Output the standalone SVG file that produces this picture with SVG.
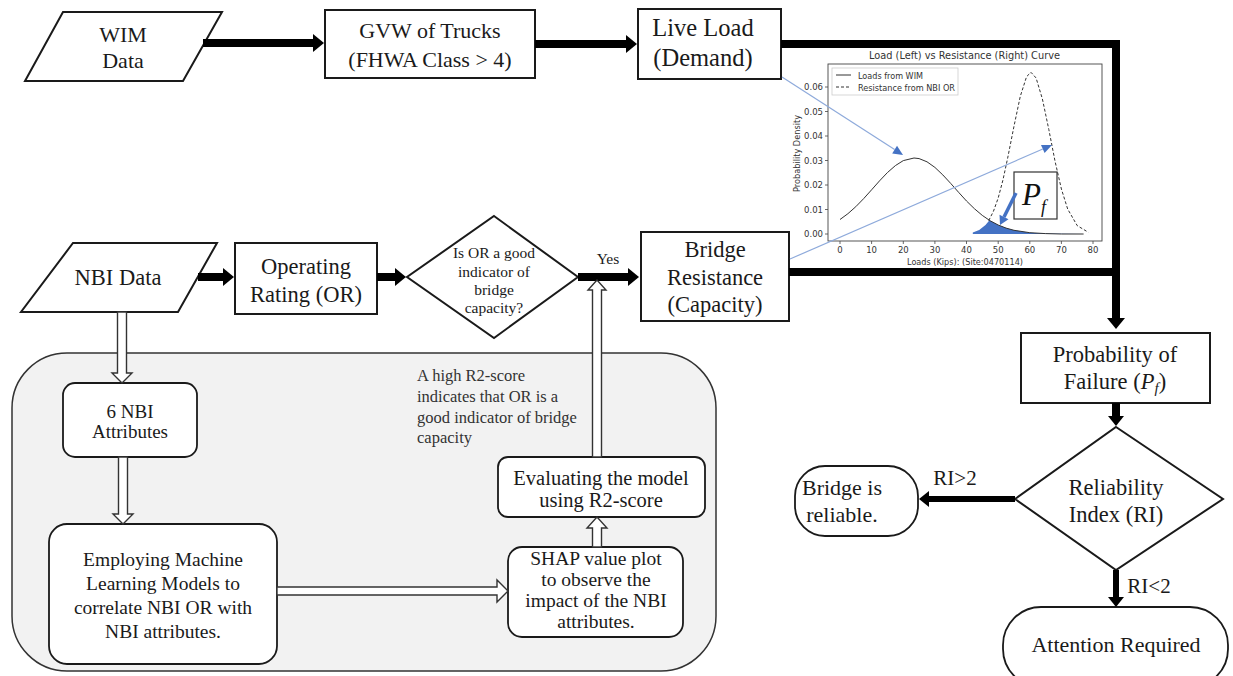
<svg xmlns="http://www.w3.org/2000/svg" width="1233" height="676" viewBox="0 0 1233 676">
<style>
.t{font-family:"Liberation Serif","Times New Roman",serif;fill:#1a1a1a;text-anchor:middle}
.box{fill:#fff;stroke:#1a1a1a;stroke-width:2}
.rbox{fill:#fff;stroke:#1a1a1a;stroke-width:1.8}
.thick{fill:none;stroke:#000;stroke-width:8;stroke-linejoin:miter}
.thin6{fill:none;stroke:#000;stroke-width:6}
.hollow{fill:#fff;stroke:#333;stroke-width:1.4;stroke-linejoin:miter}
.ct{font-family:"DejaVu Sans",sans-serif;fill:#333;font-size:8.5px}
.blue{stroke:#8eaadb;stroke-width:1.2;fill:none}
.bf{fill:#4472c4}
</style>
<defs>
<marker id="ah" markerUnits="userSpaceOnUse" markerWidth="12" markerHeight="20" refX="0" refY="9" orient="auto"><path d="M0,0 L11,9 L0,18 Z" fill="#000"/></marker>
<marker id="ahs" markerUnits="userSpaceOnUse" markerWidth="12" markerHeight="18" refX="0" refY="8" orient="auto"><path d="M0,0 L10,8 L0,16 Z" fill="#000"/></marker>
</defs>
<rect width="1233" height="676" fill="#fff"/>

<!-- gray container -->
<g id="ml-container">
<rect x="12" y="353" width="704" height="318" rx="55" ry="55" fill="#f2f2f2" stroke="#333" stroke-width="1.5"/>
<text x="417" y="381" style="font-family:'Liberation Serif',serif;font-size:16.5px;fill:#333">A high R2-score</text>
<text x="417" y="402" style="font-family:'Liberation Serif',serif;font-size:16.5px;fill:#333">indicates that OR is a</text>
<text x="417" y="423" style="font-family:'Liberation Serif',serif;font-size:16.5px;fill:#333">good indicator of bridge</text>
<text x="417" y="443" style="font-family:'Liberation Serif',serif;font-size:16.5px;fill:#333">capacity</text>
</g>

<!-- chart -->
<g id="chart">
<text x="869" y="59" class="ct" style="font-size:11px" textLength="191" lengthAdjust="spacingAndGlyphs">Load (Left) vs Resistance (Right) Curve</text>
<rect x="828" y="64" width="274" height="177" fill="#fff" stroke="#444" stroke-width="0.9"/>
<g stroke="#444" stroke-width="0.8">
<line x1="825" y1="234" x2="828" y2="234"/><line x1="825" y1="209.5" x2="828" y2="209.5"/><line x1="825" y1="185" x2="828" y2="185"/><line x1="825" y1="160.5" x2="828" y2="160.5"/><line x1="825" y1="136" x2="828" y2="136"/><line x1="825" y1="111.5" x2="828" y2="111.5"/><line x1="825" y1="87" x2="828" y2="87"/>
<line x1="840" y1="241" x2="840" y2="244"/><line x1="871.6" y1="241" x2="871.6" y2="244"/><line x1="903.3" y1="241" x2="903.3" y2="244"/><line x1="934.9" y1="241" x2="934.9" y2="244"/><line x1="966.5" y1="241" x2="966.5" y2="244"/><line x1="998.2" y1="241" x2="998.2" y2="244"/><line x1="1029.8" y1="241" x2="1029.8" y2="244"/><line x1="1061.4" y1="241" x2="1061.4" y2="244"/><line x1="1093" y1="241" x2="1093" y2="244"/>
</g>
<g class="ct" text-anchor="end">
<text x="823" y="237">0.00</text><text x="823" y="212.5">0.01</text><text x="823" y="188">0.02</text><text x="823" y="163.5">0.03</text><text x="823" y="139">0.04</text><text x="823" y="114.5">0.05</text><text x="823" y="90">0.06</text>
</g>
<g class="ct" text-anchor="middle">
<text x="840" y="253">0</text><text x="871.6" y="253">10</text><text x="903.3" y="253">20</text><text x="934.9" y="253">30</text><text x="966.5" y="253">40</text><text x="998.2" y="253">50</text><text x="1029.8" y="253">60</text><text x="1061.4" y="253">70</text><text x="1093" y="253">80</text>
</g>
<text x="907" y="265" class="ct" style="font-size:9.5px" textLength="116" lengthAdjust="spacingAndGlyphs">Loads (Kips): (Site:0470114)</text>
<text transform="translate(800,192) rotate(-90)" class="ct" style="font-size:9px" textLength="77" lengthAdjust="spacingAndGlyphs">Probability Density</text>
<rect x="832" y="68" width="126" height="27" fill="#fff" stroke="#ccc" stroke-width="0.8"/>
<line x1="836" y1="75" x2="851" y2="75" stroke="#333" stroke-width="1"/>
<line x1="836" y1="87" x2="851" y2="87" stroke="#333" stroke-width="1" stroke-dasharray="3,2"/>
<text x="858" y="78.5" class="ct" style="font-size:8.5px" textLength="65" lengthAdjust="spacingAndGlyphs">Loads from WIM</text>
<text x="858" y="90.5" class="ct" style="font-size:8.5px" textLength="97" lengthAdjust="spacingAndGlyphs">Resistance from NBI OR</text>
<path class="bf" d="M972.8,234 L972.8,232.5 L979.2,230.1 L985.5,224.9 L989.5,220.2 L998.2,225 L1006.1,228.1 L1014,230.3 L1029.8,232.7 L1045.6,233.6 L1083.6,234 Z"/>
<polyline fill="none" stroke="#333" stroke-width="1" points="840,219.5 847.9,213.7 855.8,206.7 863.7,198.6 871.6,189.8 879.5,180.9 887.4,172.6 895.4,165.6 903.3,160.6 914,158 919.1,158.6 927,161.8 934.9,167.4 942.8,174.9 950.7,183.4 958.6,192.3 966.5,201 974.4,208.7 982.3,215.4 990.2,220.8 998.2,225 1006.1,228.1 1014,230.3 1029.8,232.7 1045.6,233.6 1061.4,234 1083.6,234"/>
<polyline fill="none" stroke="#333" stroke-width="1" stroke-dasharray="3,2" points="988.7,220.6 993.4,211.4 998.2,198 1002.9,180.2 1007.6,158.4 1014,126.2 1020.3,96.3 1026.6,76.6 1031,72.3 1036.1,78 1042.4,99 1048.8,129.4 1055.1,161.5 1061.4,189 1067.7,209.1 1077.2,225.6 1088.3,232.3"/>
<rect x="1014" y="172" width="43" height="47" fill="#fff" stroke="#333" stroke-width="1.2"/>
<text x="1022" y="205" style="font-family:'Liberation Serif',serif;font-style:italic;font-size:31px;fill:#111">P</text>
<text x="1041" y="213" style="font-family:'Liberation Serif',serif;font-style:italic;font-size:18px;fill:#111">f</text>
<line x1="1016" y1="193" x2="1004" y2="217" stroke="#4472c4" stroke-width="3.5"/>
<polygon class="bf" points="1000,225 1008.5,219.2 999.5,214.8"/>
</g>

<!-- nodes -->
<g id="wim-data">
<polygon class="box" points="63,12 222,12 183,81 25,81"/>
<text class="t" x="123" y="42" font-size="22">WIM</text>
<text class="t" x="123" y="68" font-size="22">Data</text>
</g>
<g id="gvw">
<rect class="box" x="325" y="10" width="210" height="68"/>
<text class="t" x="430" y="38" font-size="22">GVW of Trucks</text>
<text class="t" x="430" y="67" font-size="22">(FHWA Class &gt; 4)</text>
</g>
<g id="live-load">
<rect class="box" x="638" y="9" width="143" height="70"/>
<text class="t" x="703" y="36" font-size="24.5">Live Load</text>
<text class="t" x="703" y="66" font-size="24.5">(Demand)</text>
</g>
<g id="nbi-data">
<polygon class="box" points="73,243 217,243 178,312 21,312"/>
<text class="t" x="118" y="285" font-size="22.5">NBI Data</text>
</g>
<g id="operating-rating">
<rect class="box" x="235" y="243" width="142" height="71"/>
<text class="t" x="306" y="274" font-size="22.5">Operating</text>
<text class="t" x="306" y="302" font-size="22.5">Rating (OR)</text>
</g>
<g id="or-decision">
<polygon class="box" points="494,216 578,277 494,338 407,277"/>
<text class="t" x="494" y="258" font-size="15.5" fill="#333">Is OR a good</text>
<text class="t" x="494" y="277" font-size="15.5" fill="#333">indicator of</text>
<text class="t" x="494" y="295" font-size="15.5" fill="#333">bridge</text>
<text class="t" x="494" y="313" font-size="15.5" fill="#333">capacity?</text>
</g>
<g id="bridge-resistance">
<rect class="box" x="641" y="232" width="148" height="89"/>
<text class="t" x="715" y="257" font-size="22.5">Bridge</text>
<text class="t" x="715" y="285" font-size="22.5">Resistance</text>
<text class="t" x="715" y="312" font-size="22.5">(Capacity)</text>
</g>
<g id="nbi-attributes">
<rect class="rbox" x="63" y="383" width="134" height="74" rx="12"/>
<text class="t" x="130" y="418" font-size="19">6 NBI</text>
<text class="t" x="130" y="438" font-size="19">Attributes</text>
</g>
<g id="ml-models">
<rect class="rbox" x="49" y="524" width="228" height="140" rx="18"/>
<text class="t" x="163" y="566" font-size="19.5">Employing Machine</text>
<text class="t" x="163" y="590" font-size="19.5">Learning Models to</text>
<text class="t" x="163" y="614" font-size="19.5">correlate NBI OR with</text>
<text class="t" x="163" y="638" font-size="19.5">NBI attributes.</text>
</g>
<g id="evaluating">
<rect class="rbox" x="498" y="457" width="207" height="60" rx="10"/>
<text class="t" x="601" y="485" font-size="20.5">Evaluating the model</text>
<text class="t" x="601" y="507" font-size="20.5">using R2-score</text>
</g>
<g id="shap">
<rect class="rbox" x="508" y="547" width="175" height="90" rx="14"/>
<text class="t" x="596" y="565" font-size="19.5">SHAP value plot</text>
<text class="t" x="596" y="586" font-size="19.5">to observe the</text>
<text class="t" x="596" y="607" font-size="19.5">impact of the NBI</text>
<text class="t" x="596" y="628" font-size="19.5">attributes.</text>
</g>
<g id="probability-failure">
<rect class="box" x="1021" y="333" width="189" height="70"/>
<text class="t" x="1115" y="362" font-size="22.5">Probability of</text>
<text class="t" x="1115" y="389" font-size="22.5">Failure (<tspan font-style="italic">P</tspan><tspan font-style="italic" font-size="15" dy="4">f</tspan><tspan dy="-4">)</tspan></text>
</g>
<g id="reliability-index">
<polygon class="box" points="1116,427 1223,499 1116,570 1015,499"/>
<text class="t" x="1116" y="495" font-size="22.5">Reliability</text>
<text class="t" x="1116" y="522" font-size="22.5">Index (RI)</text>
</g>
<g id="bridge-reliable">
<rect class="rbox" x="795" y="466" width="123" height="70" rx="30"/>
<text class="t" x="842" y="495" font-size="22">Bridge is</text>
<text class="t" x="842" y="522" font-size="22">reliable.</text>
</g>
<g id="attention-required">
<rect class="rbox" x="1003" y="607" width="225" height="80" rx="38"/>
<text class="t" x="1116" y="652" font-size="22">Attention Required</text>
</g>

<!-- connectors -->
<g id="connectors">
<path class="thick" d="M203,43 H313" marker-end="url(#ah)"/>
<path class="thick" d="M535,44 H626" marker-end="url(#ah)"/>
<path class="thick" d="M781,44 H1116 V318" marker-end="url(#ah)"/>
<path class="thick" d="M789,272 H1116"/>
<path class="thick" d="M198,277 H223" marker-end="url(#ah)"/>
<path class="thick" d="M377,277 H395" marker-end="url(#ah)"/>
<path class="thick" d="M578,277 H628" marker-end="url(#ah)"/>
<text class="t" x="608" y="264" font-size="15.5">Yes</text>
<path class="thick" d="M1116,403 V416" marker-end="url(#ahs)"/>
<path class="thin6" d="M1015,499 H929" marker-end="url(#ahs)"/>
<text class="t" x="955" y="485" font-size="21">RI&gt;2</text>
<path class="thin6" d="M1116,570 V597" marker-end="url(#ahs)"/>
<text class="t" x="1149" y="593" font-size="21">RI&lt;2</text>
<polygon class="hollow" points="117.5,312 126.5,312 126.5,373 132,373 122,383 112,373 117.5,373"/>
<polygon class="hollow" points="118.5,457 127.5,457 127.5,514 133,514 123,524 113,514 118.5,514"/>
<polygon class="hollow" points="277,587 497,587 497,580 508,591 497,602 497,595 277,595"/>
<polygon class="hollow" points="592.5,547 601.5,547 601.5,528 607,528 597,517 587,528 592.5,528"/>
<polygon class="hollow" points="592.5,457 601.5,457 601.5,290 606,290 597,280 588,290 592.5,290"/>
<line class="blue" x1="782" y1="77" x2="894.6" y2="149.6"/>
<polygon class="bf" points="903,155 892.2,153.4 897,145.8"/>
<line class="blue" x1="790" y1="259" x2="1042.8" y2="149"/>
<polygon class="bf" points="1052,145 1044.6,153.1 1041,144.9"/>
</g>
</svg>
